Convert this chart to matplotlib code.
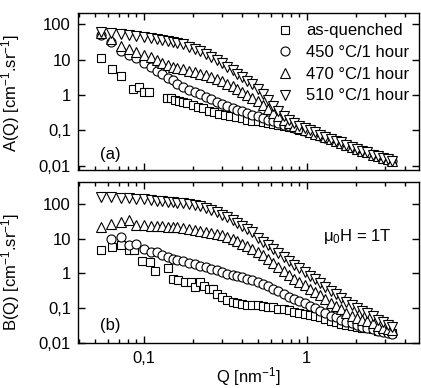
import matplotlib
matplotlib.use('Agg')
import matplotlib.pyplot as plt
from matplotlib.ticker import FixedLocator, FixedFormatter, LogLocator, NullLocator, NullFormatter

plt.rcParams['font.family'] = ['Liberation Sans', 'DejaVu Sans']
plt.rcParams['mathtext.fontset'] = 'custom'
plt.rcParams['mathtext.rm'] = 'Liberation Sans'
plt.rcParams['mathtext.it'] = 'Liberation Sans:italic'
plt.rcParams['mathtext.default'] = 'regular'

# Q grid shared by circles / triangles
q = [0.055, 0.063, 0.072, 0.081, 0.09, 0.1, 0.11, 0.12, 0.13, 0.14, 0.15, 0.16, 0.175,
     0.19, 0.205, 0.22, 0.24, 0.26, 0.28, 0.3, 0.325, 0.35, 0.375, 0.4, 0.43, 0.46, 0.5,
     0.54, 0.58, 0.62, 0.67, 0.72, 0.78, 0.84, 0.9, 0.97, 1.04, 1.12, 1.2, 1.3, 1.4, 1.5,
     1.62, 1.75, 1.88, 2.02, 2.18, 2.35, 2.53, 2.72, 2.92, 3.13, 3.35]

# ---- panel (a): A(Q) ----
qA_sq = [0.055, 0.064, 0.072, 0.086, 0.093, 0.1, 0.108, 0.138, 0.146, 0.155, 0.165, 0.175,
         0.185, 0.2, 0.215, 0.23, 0.25, 0.27, 0.29, 0.315, 0.34, 0.37, 0.4, 0.43, 0.46, 0.5,
         0.54, 0.58, 0.62, 0.67, 0.72, 0.78, 0.84, 0.9, 0.97, 1.04, 1.12, 1.2, 1.3, 1.4, 1.5,
         1.62, 1.75, 1.88, 2.02, 2.18, 2.35, 2.53, 2.72, 2.92, 3.13, 3.35]
A_sq = [11, 5.6, 3.4, 1.45, 1.65, 1.2, 1.2, 0.82, 0.8, 0.72, 0.68, 0.62,
        0.6, 0.52, 0.45, 0.42, 0.36, 0.33, 0.3, 0.28, 0.26, 0.24, 0.22, 0.2, 0.19, 0.18,
        0.17, 0.16, 0.15, 0.14, 0.13, 0.125, 0.115, 0.105, 0.097, 0.09, 0.08, 0.072, 0.064,
        0.056, 0.05, 0.044, 0.039, 0.034, 0.03, 0.027, 0.024, 0.021, 0.019, 0.017, 0.0155, 0.0145]
A_450 = [50, 32, 18, 13.5, 11, 8, 6.2, 4.8, 3.8, 3.1, 2.6, 2.1, 1.7,
         1.4, 1.2, 1.05, 0.88, 0.75, 0.65, 0.57, 0.5, 0.44, 0.39, 0.35, 0.31, 0.28, 0.25,
         0.22, 0.2, 0.18, 0.16, 0.145, 0.13, 0.118, 0.108, 0.098, 0.088, 0.079, 0.071, 0.063,
         0.056, 0.05, 0.044, 0.039, 0.035, 0.031, 0.027, 0.024, 0.021, 0.019, 0.017, 0.015, 0.014]
A_470 = [55, 38, 24, 20, 16.5, 13.5, 11.5, 9.5, 8, 7, 6.3, 5.8, 5.3,
         4.9, 4.4, 4.0, 3.6, 3.2, 2.8, 2.5, 2.1, 1.8, 1.5, 1.25, 1.0, 0.85, 0.7,
         0.52, 0.4, 0.32, 0.25, 0.2, 0.16, 0.135, 0.118, 0.104, 0.092, 0.082, 0.073, 0.064,
         0.057, 0.051, 0.045, 0.04, 0.035, 0.031, 0.027, 0.024, 0.021, 0.019, 0.017, 0.0155, 0.014]
A_510 = [60, 56, 52, 49, 47, 44, 41, 39, 36, 34, 32, 30, 27,
         23, 20, 17, 14, 11.5, 9.5, 8, 6.3, 5, 4, 3.2, 2.5, 2.0, 1.5,
         1.05, 0.72, 0.5, 0.35, 0.26, 0.2, 0.16, 0.135, 0.115, 0.1, 0.088, 0.077, 0.067,
         0.059, 0.052, 0.046, 0.04, 0.035, 0.031, 0.027, 0.024, 0.021, 0.019, 0.017, 0.0155, 0.014]

# ---- panel (b): B(Q) ----
qB_sq = [0.055, 0.064, 0.072, 0.081, 0.087, 0.098, 0.109, 0.117, 0.14, 0.15, 0.162, 0.178,
         0.194, 0.206, 0.22, 0.235, 0.25, 0.265, 0.28, 0.3, 0.325, 0.35, 0.375, 0.4, 0.43,
         0.46, 0.5, 0.54, 0.58, 0.62, 0.67, 0.72, 0.78, 0.84, 0.9, 0.97, 1.04, 1.12, 1.2, 1.3,
         1.4, 1.5, 1.62, 1.75, 1.88, 2.02, 2.18, 2.35, 2.53, 2.72, 2.92, 3.13, 3.35]
B_sq = [4.6, 5.6, 6.4, 4.6, 4.6, 2.2, 2.1, 1.14, 1.4, 0.67, 0.63, 0.55,
        0.55, 0.4, 0.55, 0.42, 0.36, 0.35, 0.25, 0.2, 0.17, 0.15, 0.14, 0.13, 0.125,
        0.12, 0.118, 0.112, 0.108, 0.105, 0.095, 0.09, 0.085, 0.078, 0.073, 0.068, 0.063,
        0.058, 0.053, 0.047, 0.041, 0.038, 0.035, 0.032, 0.03, 0.028, 0.027, 0.026, 0.024,
        0.022, 0.021, 0.02, 0.019]
qB_450 = q[1:]
B_450 = [9.5, 11, 6.4, 7, 5, 4.0, 4.0, 3.3, 2.9, 2.6, 2.4, 2.2,
         2.0, 1.8, 1.65, 1.5, 1.35, 1.2, 1.08, 0.98, 0.9, 0.82, 0.76, 0.7, 0.62, 0.55,
         0.48, 0.42, 0.36, 0.3, 0.25, 0.21, 0.18, 0.16, 0.135, 0.115, 0.097, 0.083, 0.07,
         0.06, 0.053, 0.046, 0.04, 0.036, 0.032, 0.029, 0.027, 0.024, 0.022, 0.02, 0.019, 0.018]
B_470 = [22, 26, 30, 34, 25, 24, 23.5, 23, 22.5, 22, 21.5, 21, 20,
         19, 18, 17, 15.5, 14.5, 13.5, 12.5, 11, 9.5, 8.3, 7, 6, 5, 4.2,
         3.3, 2.6, 2.0, 1.5, 1.15, 0.9, 0.7, 0.56, 0.45, 0.36, 0.29, 0.23, 0.18,
         0.14, 0.115, 0.09, 0.072, 0.06, 0.05, 0.045, 0.042, 0.036, 0.031, 0.027, 0.025, 0.023]
B_510 = [160, 155, 150, 145, 140, 135, 130, 125, 120, 116, 112, 108, 104,
         100, 92, 85, 75, 66, 57, 48, 41, 34, 28, 23, 19, 15.5, 10.5,
         8, 6.5, 5, 3.8, 2.9, 2.2, 1.7, 1.4, 1.1, 0.85, 0.66, 0.52, 0.4,
         0.31, 0.25, 0.19, 0.15, 0.12, 0.098, 0.082, 0.07, 0.057, 0.046, 0.038, 0.032, 0.028]

labels = ['as-quenched', '450 \u00b0C/1 hour', '470 \u00b0C/1 hour', '510 \u00b0C/1 hour']
ytick_vals = [0.01, 0.1, 1, 10, 100]
ytick_labels = ['0,01', '0,1', '1', '10', '100']
xtick_vals = [0.1, 1]
xtick_labels = ['0,1', '1']

mk = dict(mfc='white', mec='black', mew=0.8, ls='none')

fig = plt.figure(figsize=(4.21, 3.88), dpi=100)
axA = fig.add_axes([0.185, 0.562, 0.81, 0.404])
axB = fig.add_axes([0.185, 0.116, 0.81, 0.415])

hA = []
hA += axA.plot(qA_sq, A_sq, marker='s', ms=6, label=labels[0], **mk)
hA += axA.plot(q, A_450, marker='o', ms=6.5, label=labels[1], **mk)
hA += axA.plot(q, A_470, marker='^', ms=7, label=labels[2], **mk)
hA += axA.plot(q, A_510, marker='v', ms=7, label=labels[3], **mk)

axB.plot(qB_sq, B_sq, marker='s', ms=6, **mk)
axB.plot(qB_450, B_450, marker='o', ms=6.5, **mk)
axB.plot(q, B_470, marker='^', ms=7, **mk)
axB.plot(q, B_510, marker='v', ms=7, **mk)

for ax, ylim in ((axA, (0.0077, 204)), (axB, (0.0097, 430))):
    ax.set_xscale('log')
    ax.set_yscale('log')
    ax.set_xlim(0.0394, 4.87)
    ax.set_ylim(*ylim)
    ax.yaxis.set_major_locator(FixedLocator(ytick_vals))
    ax.yaxis.set_major_formatter(FixedFormatter(ytick_labels))
    ax.yaxis.set_minor_locator(NullLocator())
    ax.xaxis.set_major_locator(FixedLocator(xtick_vals))
    ax.xaxis.set_major_formatter(FixedFormatter(xtick_labels))
    ax.xaxis.set_minor_locator(LogLocator(base=10, subs=range(2, 10)))
    ax.xaxis.set_minor_formatter(NullFormatter())
    ax.tick_params(which='both', direction='in', top=True, right=True, labelsize=12)
    ax.tick_params(which='major', length=5, width=1)
    ax.tick_params(which='minor', length=3, width=1)
    ax.tick_params(axis='y', pad=5)
    ax.tick_params(axis='x', pad=6)
    for s in ax.spines.values():
        s.set_linewidth(1.0)

axA.tick_params(axis='x', labelbottom=False)

axA.set_ylabel(r'A(Q) [cm$^{-1}$.sr$^{-1}$]', fontsize=12)
axB.set_ylabel(r'B(Q) [cm$^{-1}$.sr$^{-1}$]', fontsize=12)
axA.yaxis.set_label_coords(-0.165, 0.49)
axB.yaxis.set_label_coords(-0.165, 0.44)
axB.set_xlabel(r'Q [nm$^{-1}$]', fontsize=12, labelpad=-1)

axA.text(0.065, 0.07, '(a)', transform=axA.transAxes, fontsize=12)
axB.text(0.065, 0.08, '(b)', transform=axB.transAxes, fontsize=12)
axB.text(0.82, 0.66, r'$\mu_0$H = 1T', transform=axB.transAxes, fontsize=12,
         ha='center', va='center')

axA.legend(handles=hA, loc='upper left', bbox_to_anchor=(0.584, 0.935), frameon=False,
           fontsize=12, handlelength=1.0, handletextpad=0.75, labelspacing=0.4,
           borderpad=0, borderaxespad=0)

fig.savefig('out.png', dpi=100)
